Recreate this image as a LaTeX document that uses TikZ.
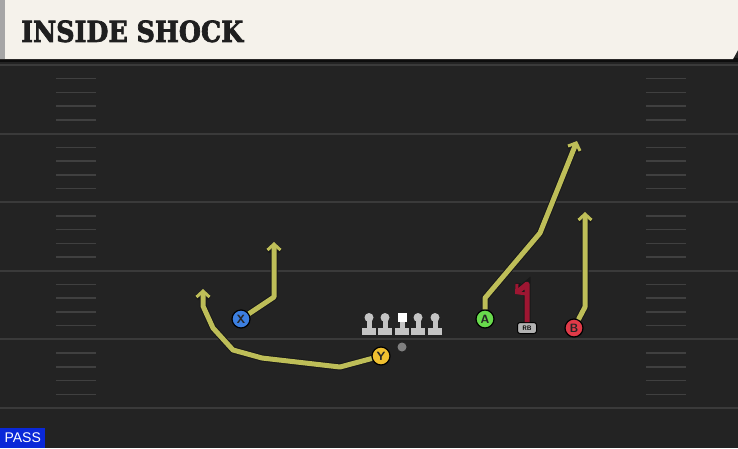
\documentclass[tikz,border=0pt]{standalone}
\usepackage{fontspec}
\setmainfont{Liberation Sans}
\newfontfamily\titlefont{DejaVu Serif}[BoldFeatures={FakeBold=2.5}]
\usepackage{tikz}
\usetikzlibrary{arrows.meta,positioning}
\usepackage{xcolor}
\definecolor{fieldbg}{RGB}{35,35,35}
\definecolor{yardline}{RGB}{58,58,58}
\definecolor{hashgray}{RGB}{64,64,64}
\definecolor{headcream}{RGB}{245,242,235}
\definecolor{routeyel}{RGB}{190,190,88}
\definecolor{rbred}{RGB}{158,22,50}
\definecolor{xblue}{RGB}{60,127,224}
\definecolor{agreen}{RGB}{104,218,76}
\definecolor{bred}{RGB}{224,58,72}
\definecolor{yyellow}{RGB}{240,192,48}
\definecolor{passblue}{RGB}{10,40,216}
\definecolor{linegray}{RGB}{196,196,196}
\tikzstyle{route} = [line width=5pt,color=routeyel,line join=round,-{Straight Barb[length=6pt,width=13pt,line width=3pt]},preaction={draw=black!90,line width=7pt,-{Straight Barb[length=6pt,width=13pt,line width=5pt]}}]
\tikzstyle{rbroute} = [route,color=rbred]
\tikzstyle{player} = [circle,draw=black,line width=1.2pt,minimum size=18pt,inner sep=0pt,font=\sffamily\bfseries\fontsize{12}{12}\selectfont,text=black!85]

\begin{document}
\begin{tikzpicture}[x=1pt,y=-1pt]
\useasboundingbox (0,0) rectangle (738,448);
% Field
\fill[fieldbg] (0,0) rectangle (738,448);
\foreach \k in {0,...,5}
  \draw[yardline,line width=2pt] (0,65+68.6*\k) -- (738,65+68.6*\k);
\foreach \k in {0,...,4}
  \foreach \j in {1,...,4} {
    \draw[hashgray,line width=1.5pt] (56,65+68.6*\k+13.72*\j) -- (96,65+68.6*\k+13.72*\j);
    \draw[hashgray,line width=1.5pt] (646,65+68.6*\k+13.72*\j) -- (686,65+68.6*\k+13.72*\j);
  }

% Header
\fill[black!95] (0,58) rectangle (738,62);
\fill[headcream] (0,0) -- (738,0) -- (738,50) -- (733,59) -- (0,59) -- cycle;
\fill[black!35] (0,0) rectangle (5,59);
\node[anchor=south west,inner sep=0pt,text=black!88] (title) at (21,42.5) {\resizebox{222pt}{21.5pt}{\titlefont\bfseries INSIDE SHOCK}};

% Line
\foreach \x in {369,385,418,435} {
  \fill[linegray] (\x,317.5) circle (4.5);
  \fill[linegray] (\x-2.5,320) rectangle (\x+2.5,328);
  \fill[linegray] (\x-7,327.5) rectangle (\x+7,335);
}
\fill[white] (397.5,313) rectangle (406.5,322);
\fill[linegray] (399.5,322) rectangle (404.5,328);
\fill[linegray] (395,327.5) rectangle (409,335);
\fill[black!50] (402,347) circle (4.5);

% Routes
\node[player,fill=xblue] (X) at (241,319) {X};
\node[player,fill=yyellow] (Y) at (381,356) {Y};
\node[player,fill=agreen] (A) at (485,319) {A};
\node[player,fill=bred] (B) at (574,328) {B};
\node[draw=black,line width=1pt,fill=black!30,rounded corners=2.5pt,inner sep=0pt,minimum width=19pt,minimum height=11pt,font=\sffamily\bfseries\fontsize{6.5}{6.5}\selectfont] (RB) at (527,328) {RB};

\draw[route] (X) -- (274,297) -- (274,242);
\draw[route] (Y) -- (340,367) -- (262,358) -- (233,350) -- (213,328) -- (203,306) -- (203,289);
\draw[route] (A) -- (485,298) -- (540,233) -- (577,141);
\draw[route] (B) -- (585,307) -- (585,212);
\draw[rbroute] (RB) -- (527,284) -- (515,294);

% Play type
\node[anchor=south west,fill=passblue,text=white,minimum width=45pt,minimum height=20pt,inner sep=0pt,font=\fontsize{14}{14}\selectfont] (pass) at (0,448) {PASS};
\end{tikzpicture}
\end{document}
